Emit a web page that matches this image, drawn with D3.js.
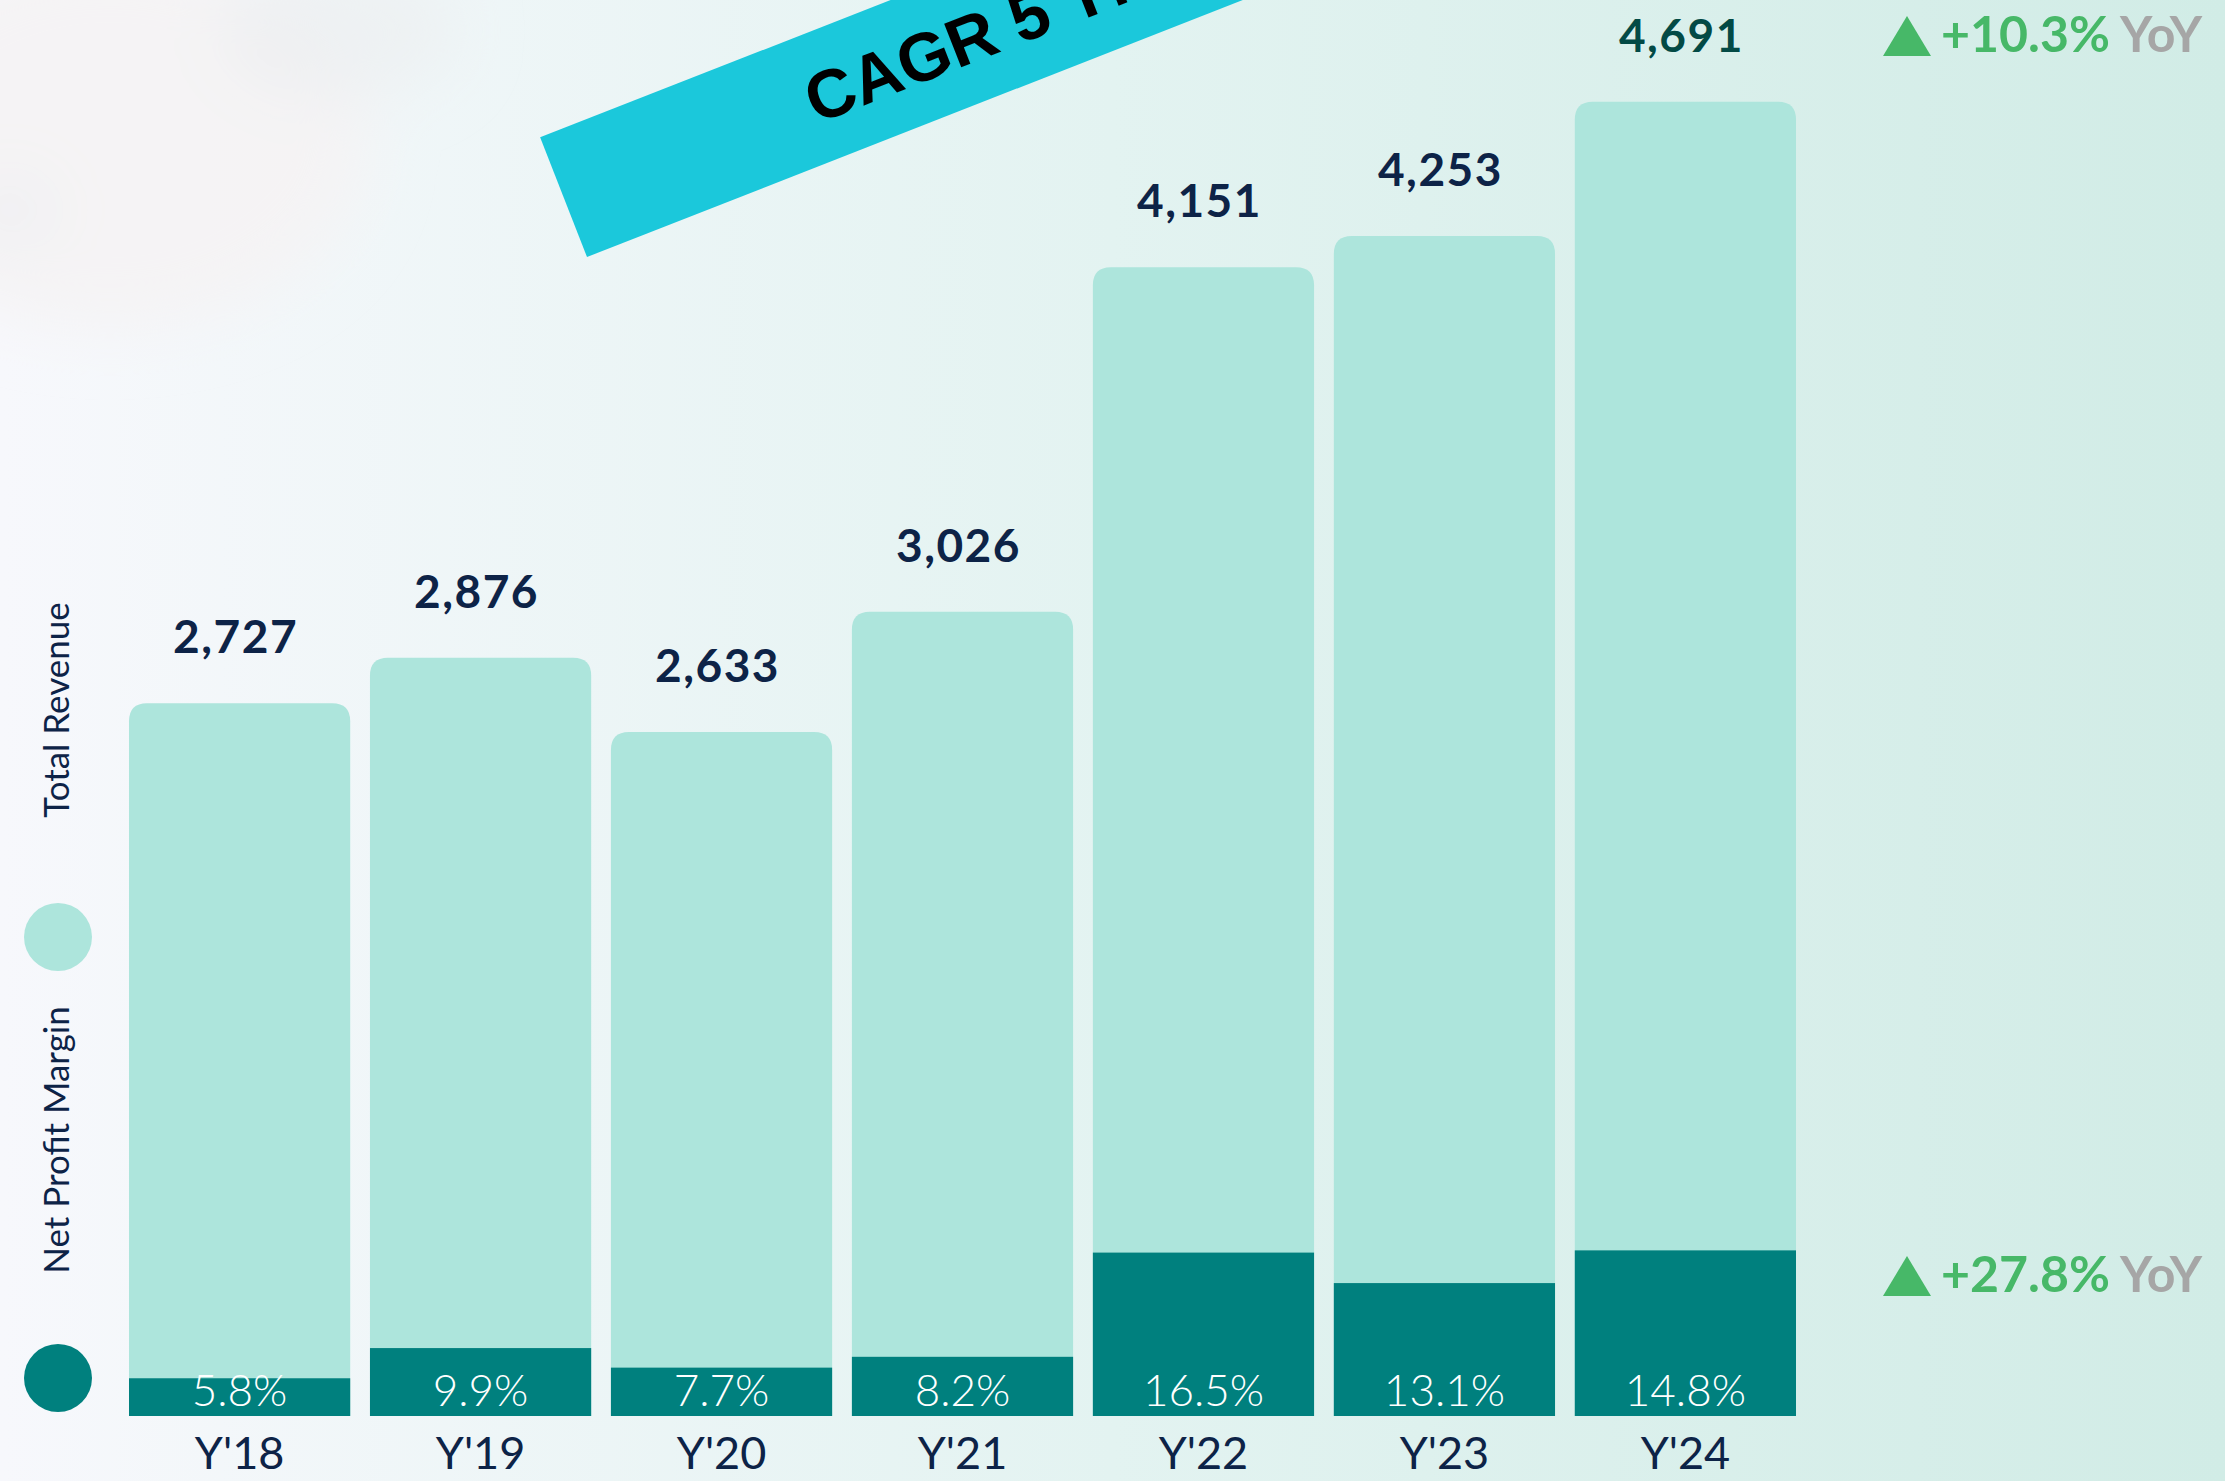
<!DOCTYPE html>
<html>
<head>
<meta charset="utf-8">
<script src="https://cdn.jsdelivr.net/npm/d3@7"></script>
<style>
  html, body { margin: 0; padding: 0; overflow: hidden; }
  svg { display: block; }
</style>
</head>
<body>
<div id="chart"></div>
<script>
// chart values
var years = ["Y'18", "Y'19", "Y'20", "Y'21", "Y'22", "Y'23", "Y'24"];
var revenue = [2727, 2876, 2633, 3026, 4151, 4253, 4691];
var margin = [5.8, 9.9, 7.7, 8.2, 16.5, 13.1, 14.8];
var revenueYoY = "+10.3%";
var profitYoY = "+27.8%";
var legendLabels = ["Total Revenue", "Net Profit Margin"];
var cagrText = "CAGR 5 Yrs 10.3%";

var W = 2225, H = 1481;
var navy = "#0d2347", light = "#ade5dc", dark = "#00807e", green = "#47b868", grey = "#a6a6a6";

var data = years.map(function (y, i) {
  return { year: y, rev: revenue[i], margin: margin[i], profit: revenue[i] * margin[i] / 100 };
});

var svg = d3.select("#chart").append("svg").attr("width", W).attr("height", H);
var defs = svg.append("defs");

var bg = defs.append("linearGradient").attr("id", "bg").attr("x1", 0).attr("x2", 1).attr("y1", 0).attr("y2", 0);
bg.append("stop").attr("offset", "0%").attr("stop-color", "#f7f8fc");
bg.append("stop").attr("offset", "50%").attr("stop-color", "#e3f3f1");
bg.append("stop").attr("offset", "100%").attr("stop-color", "#d1ece6");
svg.append("rect").attr("width", W).attr("height", H).attr("fill", "url(#bg)");

// faded photo in the top-left corner
var blur = defs.append("filter").attr("id", "blur").attr("x", "-50%").attr("y", "-50%").attr("width", "200%").attr("height", "200%");
blur.append("feGaussianBlur").attr("stdDeviation", 30);
var photo = svg.append("g").attr("filter", "url(#blur)");
photo.append("ellipse").attr("cx", 110).attr("cy", 140).attr("rx", 260).attr("ry", 190).attr("fill", "#f5f3f4").attr("opacity", 0.9);
photo.append("ellipse").attr("cx", 340).attr("cy", 30).attr("rx", 120).attr("ry", 70).attr("fill", "#edf0f1").attr("opacity", 0.7);
photo.append("ellipse").attr("cx", 10).attr("cy", 210).attr("rx", 50).attr("ry", 40).attr("fill", "#eeeef1").attr("opacity", 0.6);

// scales
var x = d3.scaleBand().domain(years).range([129, 1796]).paddingInner(0.082).paddingOuter(0);
var y = d3.scaleLinear().domain([400, 4700]).range([1416, 99]);
var yp = d3.scaleLinear().domain([0, 700]).range([1416, 1249]);

function topRounded(x0, y0, w, h, r) {
  return "M" + x0 + "," + (y0 + h) +
    "V" + (y0 + r) +
    "Q" + x0 + "," + y0 + " " + (x0 + r) + "," + y0 +
    "H" + (x0 + w - r) +
    "Q" + (x0 + w) + "," + y0 + " " + (x0 + w) + "," + (y0 + r) +
    "V" + (y0 + h) + "Z";
}

var bars = svg.append("g").selectAll("g").data(data).enter().append("g");

bars.append("path")
  .attr("fill", light)
  .attr("d", function (d) { return topRounded(x(d.year), y(d.rev), x.bandwidth(), y.range()[0] - y(d.rev), 18); });

bars.append("rect")
  .attr("fill", dark)
  .attr("x", function (d) { return x(d.year); })
  .attr("y", function (d) { return yp(d.profit); })
  .attr("width", x.bandwidth())
  .attr("height", function (d) { return yp(0) - yp(d.profit); });

bars.append("text")
  .attr("x", function (d) { return x(d.year) + x.bandwidth() / 2 - 4; })
  .attr("y", function (d) { return y(d.rev) - 50; })
  .attr("text-anchor", "middle")
  .attr("font-family", "Lato, sans-serif").attr("font-weight", 700).attr("font-size", 46)
  .attr("letter-spacing", 1.5)
  .attr("fill", function (d, i) { return i === data.length - 1 ? "#034a45" : navy; })
  .text(function (d) { return d3.format(",")(d.rev); });

bars.append("text")
  .attr("x", function (d) { return x(d.year) + x.bandwidth() / 2; })
  .attr("y", 1406)
  .attr("text-anchor", "middle")
  .attr("font-family", "Lato, sans-serif").attr("font-weight", 300).attr("font-size", 44)
  .attr("fill", "#ffffff")
  .text(function (d) { return d.margin.toFixed(1) + "%"; });

// x axis labels
var xAxis = d3.axisBottom(x).tickSize(0).tickPadding(0);
var gx = svg.append("g").attr("transform", "translate(0,1469)").call(xAxis);
gx.select(".domain").remove();
gx.selectAll("text")
  .attr("dy", 0)
  .attr("font-family", "Lato, sans-serif").attr("font-weight", 400).attr("font-size", 45)
  .attr("fill", navy);

// legend
var legend = [{ label: legendLabels[0], color: light, cy: 937, ty: 710 },
              { label: legendLabels[1], color: dark, cy: 1378, ty: 1140 }];
legend.forEach(function (l) {
  svg.append("circle").attr("cx", 58).attr("cy", l.cy).attr("r", 34).attr("fill", l.color);
  svg.append("text")
    .attr("transform", "translate(69," + l.ty + ") rotate(-90)")
    .attr("text-anchor", "middle")
    .attr("font-family", "Lato, sans-serif").attr("font-weight", 400).attr("font-size", 35)
    .attr("fill", navy)
    .text(l.label);
});

// YoY notes
[{ v: revenueYoY, y: 52 }, { v: profitYoY, y: 1292 }].forEach(function (n) {
  svg.append("path")
    .attr("d", "M1883," + (n.y + 4) + "L1907," + (n.y - 36) + "L1931," + (n.y + 4) + "Z")
    .attr("fill", green);
  var t = svg.append("text").attr("x", 1941).attr("y", n.y)
    .attr("font-family", "Lato, sans-serif").attr("font-weight", 700).attr("font-size", 50);
  t.append("tspan").attr("fill", green).text(n.v);
  t.append("tspan").attr("fill", grey).text(" YoY");
});

// CAGR banner
var banner = svg.append("g").attr("transform", "translate(587,257) rotate(-21.4)");
banner.append("rect").attr("x", 0).attr("y", -128.5).attr("width", 1600).attr("height", 128.5).attr("fill", "#1bc8db");
banner.append("text").attr("x", 262).attr("y", -40)
  .attr("font-family", "'Liberation Sans', Arial, sans-serif").attr("font-weight", 700).attr("font-size", 68)
  .attr("fill", "#000000")
  .text(cagrText);
</script>
</body>
</html>
